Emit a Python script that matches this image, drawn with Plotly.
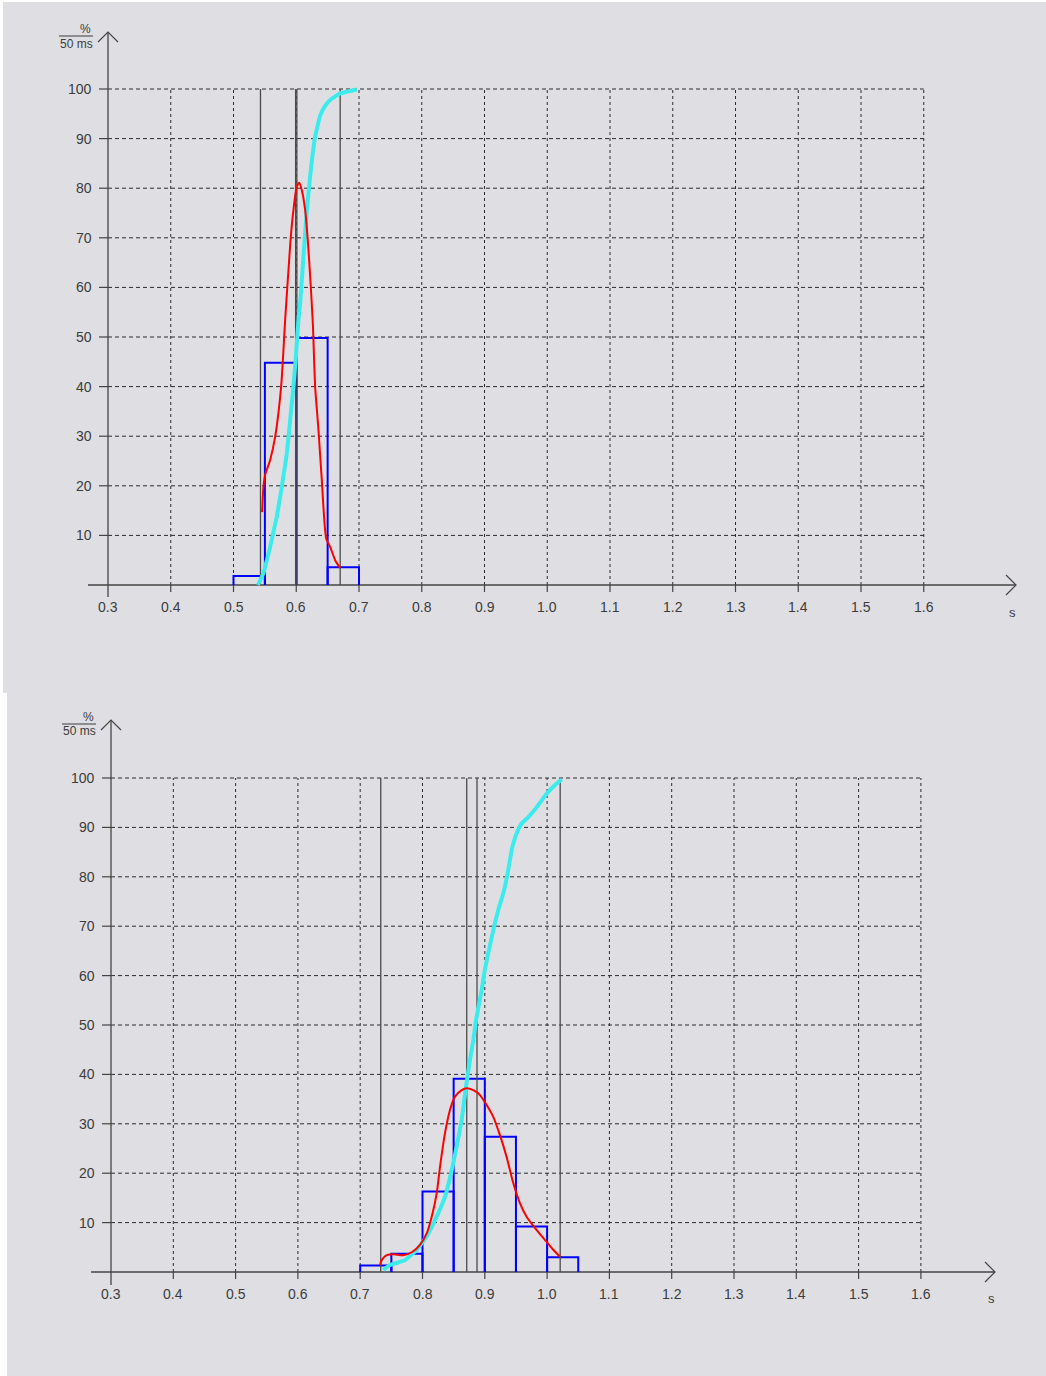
import plotly.graph_objects as go

W, H = 1046, 1376

# ---------------- data ----------------
x_ticks = [0.3, 0.4, 0.5, 0.6, 0.7, 0.8, 0.9, 1.0, 1.1, 1.2, 1.3, 1.4, 1.5, 1.6]
x_tick_labels = ["0.3", "0.4", "0.5", "0.6", "0.7", "0.8", "0.9", "1.0", "1.1", "1.2", "1.3", "1.4", "1.5", "1.6"]
y_ticks = [10, 20, 30, 40, 50, 60, 70, 80, 90, 100]
y_tick_labels = ["10", "20", "30", "40", "50", "60", "70", "80", "90", "100"]
y_unit_top = "%"
y_unit_bottom = "50 ms"
x_unit = "s"

# top panel
top_bin_edges = [0.50, 0.55, 0.60, 0.65, 0.70]
top_hist = [1.8, 44.8, 49.8, 3.6]
top_density_x = [0.5456, 0.5477, 0.5504, 0.5584, 0.5664, 0.5759, 0.5823, 0.5876, 0.5913, 0.5955,
                 0.6008, 0.6046, 0.6089, 0.6142, 0.6180, 0.6222, 0.6264, 0.6301, 0.6354, 0.6407,
                 0.6477, 0.6540, 0.6620, 0.6700]
top_density_y = [14.7, 19.8, 22.2, 25.2, 29.9, 40.0, 53.4, 63.5, 70.2, 75.6,
                 80.3, 81.1, 79.6, 75.6, 70.2, 62.2, 52.8, 40.0, 31.3, 21.2,
                 9.4, 7.7, 5.0, 3.4]
top_cum_x = [0.539, 0.5477, 0.5584, 0.569, 0.577, 0.585, 0.5903, 0.5955, 0.5998, 0.6035,
             0.6062, 0.6115, 0.6169, 0.6232, 0.6301, 0.638, 0.646, 0.654, 0.670, 0.6966]
top_cum_y = [0.0, 2.4, 7.7, 13.8, 19.8, 26.5, 33.3, 40.0, 46.7, 53.4,
             56.8, 66.2, 75.6, 83.7, 90.4, 94.6, 96.6, 97.8, 99.1, 99.9]
top_markers = [0.543, 0.599, 0.601, 0.670]

# bottom panel
bot_bin_edges = [0.70, 0.75, 0.80, 0.85, 0.90, 0.95, 1.00, 1.05]
bot_hist = [1.3, 3.7, 16.3, 39.1, 27.4, 9.2, 3.0]
bot_density_x = [0.7318, 0.7345, 0.7425, 0.7532, 0.7693, 0.7827, 0.7960, 0.8067, 0.8148, 0.8228,
                 0.8281, 0.8361, 0.8441, 0.8522, 0.8629, 0.8709, 0.8816, 0.8923, 0.9030, 0.9136,
                 0.9243, 0.9350, 0.9457, 0.9565, 0.9671, 0.9833, 0.9993, 1.0100, 1.0207]
bot_density_y = [1.4, 2.4, 3.4, 3.6, 3.4, 4.0, 5.5, 7.8, 11.2, 15.9,
                 21.3, 28.1, 32.8, 35.5, 36.8, 37.2, 36.8, 35.8, 33.8, 31.4,
                 27.7, 23.3, 18.0, 13.9, 11.2, 8.5, 6.1, 4.5, 3.1]
bot_cum_x = [0.737, 0.7478, 0.772, 0.7907, 0.8067, 0.8228, 0.8361, 0.8469, 0.8549, 0.8629,
             0.8698, 0.8762, 0.8816, 0.8859, 0.887, 0.895, 0.900, 0.9055, 0.9136, 0.9216,
             0.9296, 0.9367, 0.9431, 0.9511, 0.9591, 0.9698, 0.9833, 0.9993, 1.0127, 1.0234]
bot_cum_y = [0.4, 1.4, 2.4, 4.5, 7.2, 11.2, 15.2, 20.6, 25.4, 30.8,
             37.5, 42.9, 47.0, 51.0, 51.7, 57.1, 61.1, 64.5, 69.2, 73.3,
             76.6, 80.7, 85.4, 88.8, 90.8, 92.1, 94.1, 96.8, 98.6, 99.7]
bot_markers = [0.733, 0.871, 0.8875, 1.021]

# ---------------- styling / geometry ----------------
BG = "#dfdfe3"
FONT = "Liberation Sans, Arial, sans-serif"
TXT = "#3c3c3c"
AX = "#444444"

panels = [
    dict(name="top", xa="x", ya="y", ox=108, oy=585, sx=627.5, sy=4.96, ptop=0, pbot=693,
         bg=(3, 2, 1046, 693), xend=1016, xstart=88, ytip=32, ybot=597,
         unit_y=(88, 29, 36, 44, 59, 93), s_pos=(1012, 612),
         edges=top_bin_edges, hist=top_hist, dx_=top_density_x, dy_=top_density_y,
         cx=top_cum_x, cy=top_cum_y, markers=top_markers),
    dict(name="bot", xa="x2", ya="y2", ox=111, oy=1272, sx=623, sy=4.94, ptop=693, pbot=1376,
         bg=(7, 693, 1046, 1376), xend=995, xstart=91, ytip=720, ybot=1285,
         unit_y=(91, 717, 724, 731, 62, 96), s_pos=(991, 1298),
         edges=bot_bin_edges, hist=bot_hist, dx_=bot_density_x, dy_=bot_density_y,
         cx=bot_cum_x, cy=bot_cum_y, markers=bot_markers),
]

def px2x(p, px):
    return 0.3 + (px - p["ox"]) / p["sx"]

def py2y(p, py):
    return (p["oy"] - py) / p["sy"]

def PX(px):
    return px / W

def PY(py):
    return 1 - py / H

fig = go.Figure()
shapes = []
annotations = []
layout_axes = {}

# panel backgrounds (paper)
for p in panels:
    x0, y0, x1, y1 = p["bg"]
    shapes.append(dict(type="rect", xref="paper", yref="paper", x0=PX(x0), x1=PX(x1),
                       y0=PY(y0), y1=PY(y1), fillcolor=BG, line=dict(width=0), layer="below"))

for i, p in enumerate(panels):
    xa, ya = p["xa"], p["ya"]
    xkey = "xaxis" if i == 0 else "xaxis2"
    ykey = "yaxis" if i == 0 else "yaxis2"
    layout_axes[xkey] = dict(domain=[0, 1], range=[px2x(p, 0), px2x(p, W)], visible=False,
                             fixedrange=True, anchor=ya)
    layout_axes[ykey] = dict(domain=[1 - p["pbot"] / H, 1 - p["ptop"] / H],
                             range=[py2y(p, p["pbot"]), py2y(p, p["ptop"])], visible=False,
                             fixedrange=True, anchor=xa)

    xmax = x_ticks[-1]
    ymax = y_ticks[-1]
    # grid
    for t in x_ticks[1:]:
        shapes.append(dict(type="line", xref=xa, yref=ya, x0=t, x1=t, y0=0, y1=ymax,
                           line=dict(color="#2a2a2a", width=1, dash="3px,3px"), layer="below"))
    for v in y_ticks:
        shapes.append(dict(type="line", xref=xa, yref=ya, x0=x_ticks[0], x1=xmax, y0=v, y1=v,
                           line=dict(color="#2a2a2a", width=1, dash="4px,3px"), layer="below"))
    # axes
    shapes.append(dict(type="line", xref=xa, yref=ya, x0=px2x(p, p["xstart"]), x1=px2x(p, p["xend"]),
                       y0=0, y1=0, line=dict(color=AX, width=1.3), layer="below"))
    shapes.append(dict(type="line", xref=xa, yref=ya, x0=x_ticks[0], x1=x_ticks[0],
                       y0=py2y(p, p["ybot"]), y1=py2y(p, p["ytip"]), line=dict(color=AX, width=1.3),
                       layer="below"))
    # arrows
    tipx, tipy = p["ox"], p["ytip"]
    shapes.append(dict(type="path", xref="paper", yref="paper",
                       path=f"M {PX(tipx-10)} {PY(tipy+10)} L {PX(tipx)} {PY(tipy)} L {PX(tipx+10)} {PY(tipy+10)}",
                       line=dict(color=AX, width=1.2), layer="above"))
    ex, ey = p["xend"], p["oy"]
    shapes.append(dict(type="path", xref="paper", yref="paper",
                       path=f"M {PX(ex-10)} {PY(ey-10)} L {PX(ex)} {PY(ey)} L {PX(ex-10)} {PY(ey+10)}",
                       line=dict(color=AX, width=1.2), layer="above"))
    # ticks
    for t in x_ticks[1:]:
        shapes.append(dict(type="line", xref=xa, yref=ya, x0=t, x1=t, y0=0, y1=py2y(p, p["oy"] + 7),
                           line=dict(color=AX, width=1.2), layer="below"))
    for v in y_ticks:
        shapes.append(dict(type="line", xref=xa, yref=ya, x0=px2x(p, p["ox"] - 9), x1=x_ticks[0],
                           y0=v, y1=v, line=dict(color=AX, width=1.2), layer="below"))
    # tick labels
    for t, lab in zip(x_ticks, x_tick_labels):
        annotations.append(dict(xref=xa, yref=ya, x=t, y=0, yshift=-22, text=lab, showarrow=False,
                                xanchor="center", yanchor="middle",
                                font=dict(family=FONT, size=14, color=TXT)))
    for v, lab in zip(y_ticks, y_tick_labels):
        annotations.append(dict(xref=xa, yref=ya, x=x_ticks[0], y=v, xshift=-14, text=lab,
                                showarrow=False, xanchor="right", yanchor="middle",
                                font=dict(family=FONT, size=14, color=TXT)))
    # unit labels
    ux, uy1, ubar, uy2, bx0, bx1 = p["unit_y"]
    annotations.append(dict(xref="paper", yref="paper", x=PX(ux + 5), y=PY(uy1), text=y_unit_top,
                            showarrow=False, xanchor="right", yanchor="middle",
                            font=dict(family=FONT, size=12, color=TXT)))
    annotations.append(dict(xref="paper", yref="paper", x=PX((bx0 + bx1) / 2), y=PY(uy2),
                            text=y_unit_bottom, showarrow=False, xanchor="center", yanchor="middle",
                            font=dict(family=FONT, size=12, color=TXT)))
    shapes.append(dict(type="line", xref="paper", yref="paper", x0=PX(bx0), x1=PX(bx1),
                       y0=PY(ubar), y1=PY(ubar), line=dict(color=TXT, width=1), layer="above"))
    sx_, sy_ = p["s_pos"]
    annotations.append(dict(xref="paper", yref="paper", x=PX(sx_), y=PY(sy_), text=x_unit,
                            showarrow=False, xanchor="center", yanchor="middle",
                            font=dict(family=FONT, size=13, color=TXT)))

    # histogram bars (outline without bottom edge)
    edges = p["edges"]
    hx, hy = [], []
    for k, h in enumerate(p["hist"]):
        hx += [edges[k], edges[k], edges[k + 1], edges[k + 1], None]
        hy += [0, h, h, 0, None]
    fig.add_trace(go.Scatter(x=hx, y=hy, mode="lines", xaxis=xa, yaxis=ya,
                             line=dict(color="#0000ff", width=2), showlegend=False, hoverinfo="skip"))
    # marker vertical lines
    mx, my = [], []
    for m in p["markers"]:
        mx += [m, m, None]
        my += [0, ymax, None]
    fig.add_trace(go.Scatter(x=mx, y=my, mode="lines", xaxis=xa, yaxis=ya,
                             line=dict(color="#4a4a4a", width=1.3), showlegend=False, hoverinfo="skip"))
    # cumulative
    fig.add_trace(go.Scatter(x=p["cx"], y=p["cy"], mode="lines", xaxis=xa, yaxis=ya,
                             line=dict(color="#3cecec", width=4, shape="spline", smoothing=0.3),
                             showlegend=False, hoverinfo="skip"))
    # density
    fig.add_trace(go.Scatter(x=p["dx_"], y=p["dy_"], mode="lines", xaxis=xa, yaxis=ya,
                             line=dict(color="#ff0000", width=2, shape="spline", smoothing=0.6),
                             showlegend=False, hoverinfo="skip"))

fig.update_layout(width=W, height=H, margin=dict(l=0, r=0, t=0, b=0, pad=0),
                  paper_bgcolor="#ffffff", plot_bgcolor="rgba(0,0,0,0)",
                  shapes=shapes, annotations=annotations,
                  showlegend=False, **layout_axes)

fig.write_html("out.html")
